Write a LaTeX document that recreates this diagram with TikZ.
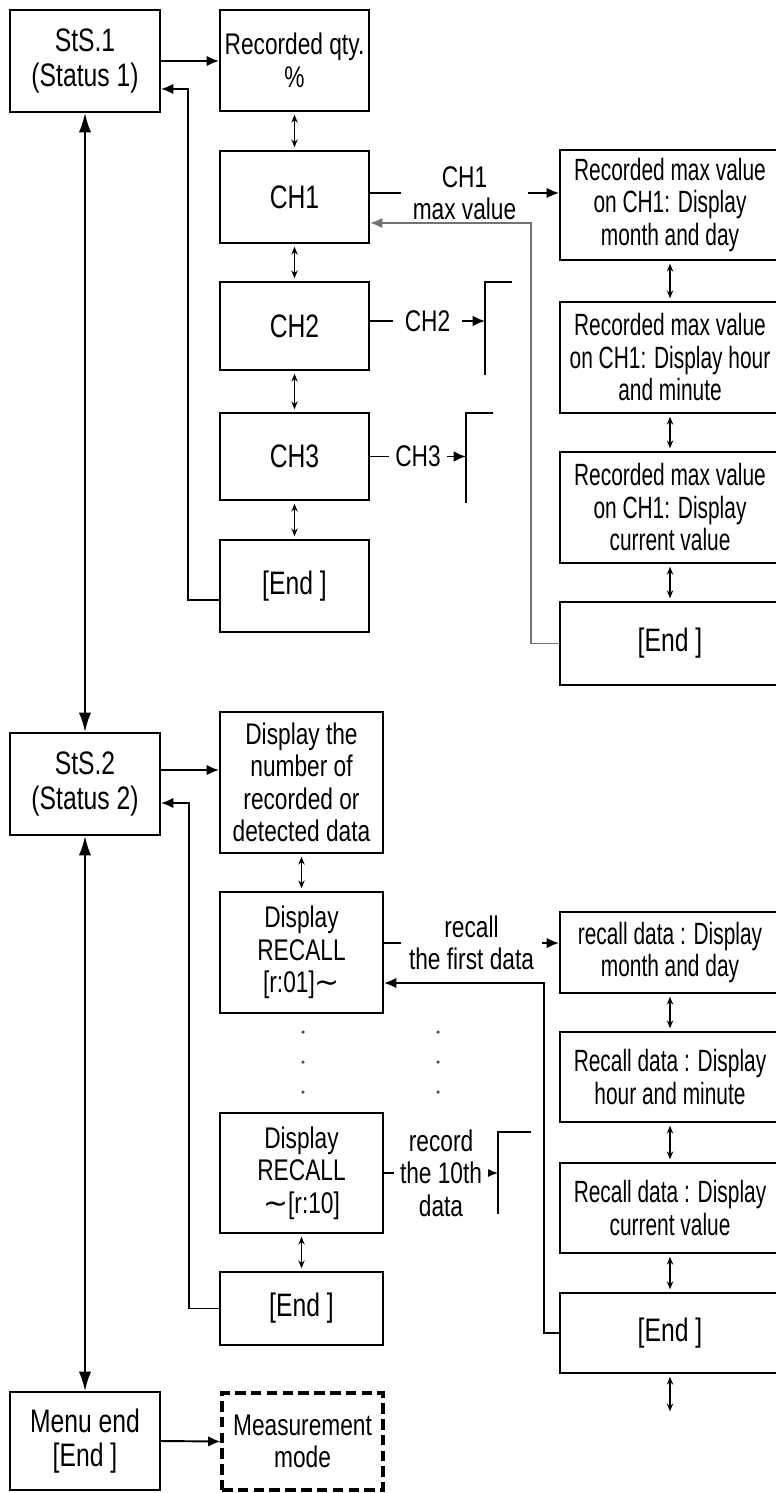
\documentclass[tikz,border=0pt]{standalone}
\usepackage{fontspec}
\setmainfont{Liberation Sans}[FakeStretch=0.76]
\newfontfamily\narrowfont{Liberation Sans}[FakeStretch=0.68]
\newfontfamily\tildefont{DejaVu Sans}
\usetikzlibrary{
    positioning,
    arrows.meta
}
\newcommand{\wave}{{\tildefont ∼}}
\tikzset{
    >=Latex,
    box/.style={
        draw,
        line width=1.2pt,
        align=center,
        inner sep=0pt,
        font=\fontsize{17}{18.5}\selectfont
    },
    bigbox/.style={
        box,
        font=\fontsize{18.5}{19.5}\selectfont
    },
    widebox/.style={
        box,
        minimum width=4.4cm,
        font=\narrowfont\fontsize{17.5}{18.5}\selectfont
    },
    flow/.style={
        line width=1.1pt,
        -{Latex[length=7pt,width=6pt]}
    },
    rail/.style={
        line width=1.1pt,
        {Latex[length=11pt,width=7pt]}-{Latex[length=11pt,width=7pt]}
    },
    updown/.style={
        line width=0.9pt,
        {Stealth[length=4.5pt,width=3.6pt]}-{Stealth[length=4.5pt,width=3.6pt]},
        shorten >=1.5pt,
        shorten <=1.5pt
    },
    bracket/.style={
        line width=1.1pt
    },
    lbl/.style={
        fill=white,
        inner xsep=0.24cm,
        inner ysep=0pt,
        align=center,
        font=\fontsize{17}{18.5}\selectfont
    }
}

\begin{document}
\begin{tikzpicture}[
    x=0.02cm,
    y=-0.02cm
]

    \useasboundingbox (0,0) rectangle (776,1493);

    % Estado 1
    \node[bigbox, minimum width=3cm, minimum height=2.04cm]    (s1)  at (85,61)      {StS.1\\(Status 1)};
    \node[box, minimum width=2.98cm, minimum height=2.02cm]    (qty) at (294.5,60.5) {Recorded qty.\\\%};
    \node[bigbox, minimum width=2.98cm, minimum height=1.84cm] (c1)  at (294.5,197)  {CH1};
    \node[bigbox, minimum width=2.98cm, minimum height=1.76cm] (c2)  at (294.5,326)  {CH2};
    \node[bigbox, minimum width=2.98cm, minimum height=1.74cm] (c3)  at (294.5,456.5) {CH3};
    \node[bigbox, minimum width=2.98cm, minimum height=1.84cm] (e1)  at (294.5,586)  {[End\ ]};

    % Valores maximos
    \node[widebox, minimum height=2.2cm]  (m1) at (670,205)   {Recorded max value\\on CH1: Display\\month and day};
    \node[widebox, minimum height=2.22cm] (m2) at (670,357.5) {Recorded max value\\on CH1: Display hour\\and minute};
    \node[widebox, minimum height=2.22cm] (m3) at (670,507.5) {Recorded max value\\on CH1: Display\\current value};
    \node[bigbox, minimum width=4.4cm, minimum height=1.66cm] (e2) at (670,643.5) {[End\ ]};

    % Estado 2
    \node[bigbox, minimum width=3cm, minimum height=2.04cm]  (s2)  at (85,784)      {StS.2\\(Status 2)};
    \node[box, minimum width=3.26cm, minimum height=2.82cm]  (num) at (301.5,782.5) {Display the\\number of\\recorded or\\detected data};
    \node[box, minimum width=3.26cm, minimum height=2.42cm]  (r1)  at (301.5,952.5) {Display\\RECALL\\{[r:01]}\wave};
    \node[box, minimum width=3.26cm, minimum height=2.4cm]   (r10) at (301.5,1173)  {Display\\RECALL\\\wave{[r:10]}};
    \node[bigbox, minimum width=3.26cm, minimum height=1.46cm] (e3) at (301.5,1308.5) {[End\ ]};

    % Datos recuperados
    \node[widebox, minimum height=1.62cm] (d1) at (670,952.5) {recall data : Display\\month and day};
    \node[widebox, minimum height=1.8cm]  (d2) at (670,1077)  {Recall data : Display\\hour and minute};
    \node[widebox, minimum height=1.8cm]  (d3) at (670,1208)  {Recall data : Display\\current value};
    \node[bigbox, minimum width=4.4cm, minimum height=1.6cm] (e4) at (670,1333) {[End\ ]};

    % Fin del menu
    \node[bigbox, minimum width=3cm, minimum height=1.96cm] (me) at (85,1441) {Menu end\\{[End\ ]}};
    \node[box, minimum width=3.22cm, minimum height=1.94cm,
          line width=1.8pt, dash pattern=on 6pt off 3pt] (mm) at (302.5,1441.5) {Measurement\\mode};

    % Puntos de los extremos libres
    \coordinate (b2)  at (485,321);
    \coordinate (b3)  at (466,456.5);
    \coordinate (b10) at (498,1173);
    \coordinate (dn)  at (670,1414);

    % Eje principal
    \draw[rail] (s1.south) -- (s2.north);
    \draw[rail] (s2.south) -- (me.north);

    % Desde StS.1
    \draw[flow] (s1.east) -- (s1.east -| qty.west);
    \draw[flow] ([yshift=-0.28cm]e1.west) -- ++(-31,0) |- ([yshift=-0.56cm]s1.east);

    % Canales
    \draw[flow] ([yshift=0.08cm]c1.east)
        -- node[lbl] {CH1\\max value} ([yshift=0.08cm]c1.east -| m1.west);
    \draw[flow, black!55] (e2.west) -- ++(-28,0) |- ([yshift=-0.52cm]c1.east);
    \draw[flow] ([yshift=0.1cm]c2.east) -- node[lbl] {CH2} (b2);
    \draw[bracket] (512,282) -| (485,375);
    \draw[flow] (c3.east) -- node[lbl, inner xsep=0.12cm] {CH3} (b3);
    \draw[bracket] (493,413) -| (466,503);

    % Desde StS.2
    \draw[flow] ([yshift=0.28cm]s2.east) -- ([yshift=0.28cm]s2.east -| num.west);
    \draw[flow] (e3.west) -- ++(-30,0) |- ([yshift=-0.38cm]s2.east);

    % Recuperacion de datos
    \draw[flow] ([yshift=0.19cm]r1.east)
        -- node[lbl, inner xsep=0.16cm] {recall\\the first data} ([yshift=0.19cm]r1.east -| d1.west);
    \draw[flow] (e4.west) -- ++(-15,0) |- ([yshift=-0.61cm]r1.east);
    \draw[flow] (r10.east) -- node[lbl, inner xsep=0.12cm] {record\\the 10th\\data} (b10);
    \draw[bracket] (531,1132) -| (498,1214);

    \foreach \y in {1032,1062,1092} {
        \fill[black!70] (303,\y) circle[radius=1pt];
        \fill[black!70] (438,\y) circle[radius=1pt];
    }

    % Medicion
    \draw[flow] (me.east) -- (mm.west);

    % Pasos arriba y abajo
    \path[updown]
        (qty) edge (c1)
        (c1)  edge (c2)
        (c2)  edge (c3)
        (c3)  edge (e1)
        (m1)  edge (m2)
        (m2)  edge (m3)
        (m3)  edge (e2)
        (num) edge (r1)
        (r10) edge (e3)
        (d1)  edge (d2)
        (d2)  edge (d3)
        (d3)  edge (e4)
        (e4)  edge (dn);

\end{tikzpicture}
\end{document}
